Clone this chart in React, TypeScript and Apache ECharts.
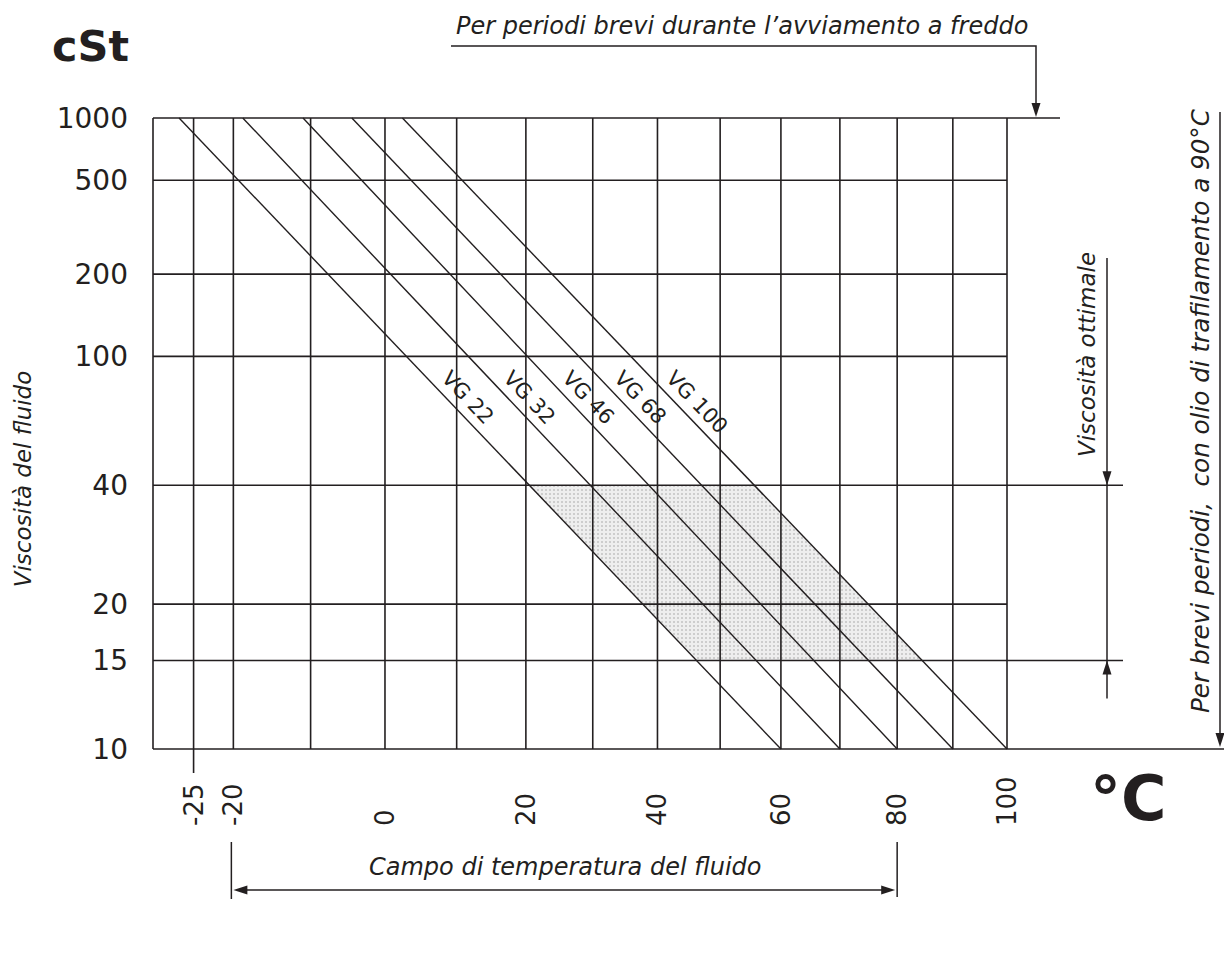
import React, { useEffect, useRef } from 'react';
import * as echarts from 'echarts';

// ---- data ----
const tempMin = -30;
const tempMax = 100;
const tempGrid = [-30, -25, -20, -10, 0, 10, 20, 30, 40, 50, 60, 70, 80, 90, 100];
const tempLabels = [-25, -20, 0, 20, 40, 60, 80, 100];
const tickExtendTemps = [-25];
const viscMin = 10;
const viscMax = 1000;
const viscGrid = [10, 15, 20, 40, 100, 200, 500, 1000];
const vgNames = ['VG 22', 'VG 32', 'VG 46', 'VG 68', 'VG 100'];
const vgTempAt1000 = [-26.8, -18.8, -11.0, -4.5, 2.4];
const vgTempAt10 = [60, 70, 80, 90, 100];
const optimalRange = [15, 40];
const vgLabelVisc = 80;
const fluidRange = [-20, 80];

// ---- layout (annotation extensions in px) ----
const rightExtension: Record<number, number> = { 1000: 53, 40: 116, 15: 116, 10: 217 };

const ink = '#231f20';
const FONT = '"DejaVu Sans", sans-serif';

const dotTile =
  'data:image/svg+xml;utf8,' +
  encodeURIComponent(
    '<svg xmlns="http://www.w3.org/2000/svg" width="4" height="4"><rect width="4" height="4" fill="#eeeeee"/><circle cx="2" cy="2" r="1" fill="#c2c2c2"/></svg>'
  );

// Walther chart transforms
const tx = (t: number) => Math.log10(t + 273.15);
const vy = (v: number) => Math.log10(Math.log10(v + 0.7));
const txInv = (x: number) => Math.pow(10, x) - 273.15;
const vyInv = (y: number) => Math.pow(10, Math.pow(10, y)) - 0.7;

const vgPoint = (i: number, v: number) => {
  const x1 = tx(vgTempAt1000[i]);
  const x2 = tx(vgTempAt10[i]);
  const f = (vy(viscMax) - vy(v)) / (vy(viscMax) - vy(viscMin));
  return [x1 + (x2 - x1) * f, vy(v)];
};

const italic = (text: string, x: number, y: number, size: number, rot: number, align: string) => ({
  type: 'text',
  x,
  y,
  rotation: rot,
  silent: true,
  style: {
    text,
    fill: ink,
    fontFamily: FONT,
    fontStyle: 'italic',
    fontSize: size,
    align,
    verticalAlign: 'middle',
  },
});

const seg = (x1: number, y1: number, x2: number, y2: number, w = 1.5) => ({
  type: 'line',
  silent: true,
  shape: { x1, y1, x2, y2 },
  style: { stroke: ink, lineWidth: w },
});

const tri = (pts: number[][]) => ({
  type: 'polygon',
  silent: true,
  shape: { points: pts },
  style: { fill: ink },
});
const arrowDown = (x: number, y: number) => tri([[x - 4.5, y - 14], [x + 4.5, y - 14], [x, y]]);
const arrowUp = (x: number, y: number) => tri([[x - 4.5, y + 14], [x + 4.5, y + 14], [x, y]]);
const arrowLeft = (x: number, y: number) => tri([[x + 14, y - 4.5], [x + 14, y + 4.5], [x, y]]);
const arrowRight = (x: number, y: number) => tri([[x - 14, y - 4.5], [x - 14, y + 4.5], [x, y]]);

export default function App() {
  const ref = useRef<HTMLDivElement>(null);

  useEffect(() => {
    if (!ref.current) return;
    const chart = echarts.init(ref.current, null, { renderer: 'svg' });

    const option: any = {
      animation: false,
      grid: { left: 153, top: 118, width: 854, height: 631 },
      xAxis: {
        type: 'value',
        min: tx(tempMin),
        max: tx(tempMax),
        axisLine: { show: false },
        axisTick: { show: false },
        splitLine: { show: false },
        axisLabel: {
          customValues: tempLabels.map(tx),
          formatter: (v: number) => String(Math.round(txInv(v))),
          rotate: 90,
          align: 'left',
          verticalAlign: 'middle',
          margin: 77,
          fontFamily: FONT,
          fontSize: 26,
          color: ink,
        },
      },
      yAxis: {
        type: 'value',
        min: vy(viscMin),
        max: vy(viscMax),
        axisLine: { show: false },
        axisTick: { show: false },
        splitLine: { show: false },
        axisLabel: {
          customValues: viscGrid.map(vy),
          formatter: (v: number) => String(Math.round(vyInv(v))),
          margin: 25,
          fontFamily: FONT,
          fontSize: 28,
          color: ink,
        },
      },
      series: [
        {
          type: 'custom',
          name: 'optimal',
          clip: false,
          data: [[vgPoint(0, optimalRange[1])[0], vy(optimalRange[1])]],
          renderItem: (params: any, api: any) => {
            const last = vgNames.length - 1;
            const pts = [
              api.coord(vgPoint(0, optimalRange[1])),
              api.coord(vgPoint(last, optimalRange[1])),
              api.coord(vgPoint(last, optimalRange[0])),
              api.coord(vgPoint(0, optimalRange[0])),
            ];
            return {
              type: 'polygon',
              silent: true,
              shape: { points: pts },
              style: { fill: { image: dotTile, repeat: 'repeat', imageWidth: 4, imageHeight: 4 } },
            };
          },
        },
        {
          type: 'custom',
          name: 'vgrid',
          clip: false,
          data: tempGrid.map((t) => [tx(t), vy(viscMin), t]),
          renderItem: (params: any, api: any) => {
            const t = api.value(2);
            const top = api.coord([tx(t), vy(viscMax)]);
            const bot = api.coord([tx(t), vy(viscMin)]);
            const ext = tickExtendTemps.indexOf(t) >= 0 ? 24 : 0;
            return seg(top[0], top[1], bot[0], bot[1] + ext, 1.6);
          },
        },
        {
          type: 'custom',
          name: 'hgrid',
          clip: false,
          data: viscGrid.map((v) => [tx(tempMin), vy(v), v]),
          renderItem: (params: any, api: any) => {
            const v = api.value(2);
            const l = api.coord([tx(tempMin), vy(v)]);
            const r = api.coord([tx(tempMax), vy(v)]);
            const ext = rightExtension[v] || 0;
            return seg(l[0], l[1], r[0] + ext, r[1], 1.6);
          },
        },
        {
          type: 'custom',
          name: 'VG',
          clip: false,
          data: vgNames.map((n, i) => [tx(vgTempAt1000[i]), vy(viscMax), i]),
          renderItem: (params: any, api: any) => {
            const i = api.value(2);
            const p1 = api.coord(vgPoint(i, viscMax));
            const p2 = api.coord(vgPoint(i, viscMin));
            const pl = api.coord(vgPoint(i, vgLabelVisc));
            const ang = Math.atan2(p2[1] - p1[1], p2[0] - p1[0]);
            const off = 16;
            const lx = pl[0] + Math.sin(ang) * off;
            const ly = pl[1] - Math.cos(ang) * off;
            return {
              type: 'group',
              children: [
                seg(p1[0], p1[1], p2[0], p2[1], 1.4),
                {
                  type: 'text',
                  x: lx,
                  y: ly,
                  rotation: -ang,
                  silent: true,
                  style: {
                    text: vgNames[i],
                    fill: ink,
                    fontFamily: FONT,
                    fontSize: 21,
                    align: 'left',
                    verticalAlign: 'middle',
                  },
                },
              ],
            };
          },
        },
        {
          type: 'custom',
          name: 'annotations',
          clip: false,
          data: [[tx(tempMax), vy(viscMax)]],
          renderItem: (params: any, api: any) => {
            const c = (t: number, v: number) => api.coord([tx(t), vy(v)]);
            const [xL, yTop] = c(tempMin, viscMax);
            const [xR, yBot] = c(tempMax, viscMin);
            const y40 = c(tempMax, optimalRange[1])[1];
            const y15 = c(tempMax, optimalRange[0])[1];
            const xa = c(fluidRange[0], viscMin)[0];
            const xb = c(fluidRange[1], viscMin)[0];
            const topArrowX = xR + 29;
            const optX = xR + 100;
            const longX = xR + 213;
            const children: any[] = [
              // top note
              italic('Per periodi brevi durante l\u2019avviamento a freddo', xL + 303, 26, 24, 0, 'left'),
              {
                type: 'polyline',
                silent: true,
                shape: { points: [[xL + 298, 46], [topArrowX, 46], [topArrowX, yTop - 14]] },
                style: { stroke: ink, lineWidth: 1.5, fill: 'none' },
              },
              arrowDown(topArrowX, yTop - 1),
              // optimal viscosity
              seg(optX, 258, optX, y15 + 38),
              arrowDown(optX, y40),
              arrowUp(optX, y15),
              italic('Viscosit\u00e0 ottimale', xR + 80, 457, 23, Math.PI / 2, 'left'),
              // short periods with leak oil
              italic('Per brevi periodi,  con olio di trafilamento a 90\u00b0C', xR + 193, 713, 24.6, Math.PI / 2, 'left'),
              seg(longX, 112, longX, yBot - 12),
              arrowDown(longX, yBot - 2),
              // left axis name
              italic('Viscosit\u00e0 del fluido', 23, 479, 23, Math.PI / 2, 'center'),
              {
                type: 'text',
                x: 52,
                y: 46,
                silent: true,
                style: { text: 'cSt', fill: ink, fontFamily: FONT, fontWeight: 'bold', fontSize: 43, align: 'left', verticalAlign: 'middle' },
              },
              {
                type: 'text',
                x: 1090,
                y: 798,
                silent: true,
                style: { text: '\u00b0C', fill: ink, fontFamily: FONT, fontWeight: 'bold', fontSize: 62, align: 'left', verticalAlign: 'middle' },
              },
              // fluid temperature range
              seg(xa - 2, yBot + 93, xa - 2, yBot + 150),
              seg(xb, yBot + 93, xb, yBot + 148),
              seg(xa + 10, yBot + 141, xb - 10, yBot + 141),
              arrowLeft(xa, yBot + 141),
              arrowRight(xb - 2, yBot + 141),
              italic('Campo di temperatura del fluido', (xa + xb) / 2, yBot + 118, 24, 0, 'center'),
            ];
            return { type: 'group', children };
          },
        },
      ],
    };

    chart.setOption(option);
    return () => chart.dispose();
  }, []);

  return (
    <div
      ref={ref}
      style={{ position: 'absolute', left: 0, top: 0, width: 1224, height: 953, background: '#ffffff' }}
    />
  );
}
